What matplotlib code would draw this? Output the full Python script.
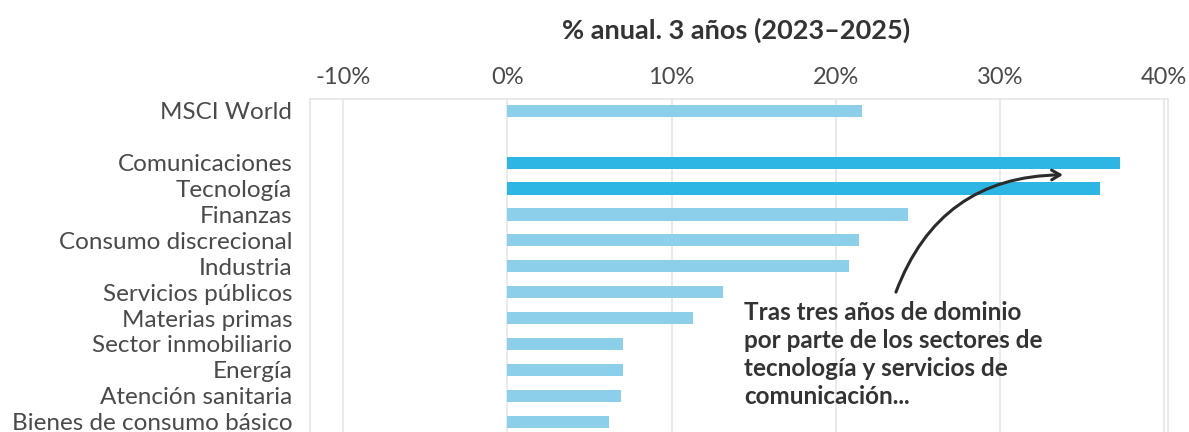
import matplotlib
matplotlib.use("Agg")
import matplotlib.pyplot as plt
from matplotlib.ticker import FuncFormatter

categories = ["MSCI World", "Comunicaciones", "Tecnología", "Finanzas",
              "Consumo discrecional", "Industria", "Servicios públicos",
              "Materias primas", "Sector inmobiliario", "Energía",
              "Atención sanitaria", "Bienes de consumo básico"]
values = [21.6, 37.3, 36.1, 24.4, 21.4, 20.8, 13.1, 11.3, 7.05, 7.05, 6.9, 6.2]
highlight = [False, True, True, False, False, False, False, False, False, False, False, False]
positions = [0, 2, 3, 4, 5, 6, 7, 8, 9, 10, 11, 12]
xticks = [-10, 0, 10, 20, 30, 40]
title = "% anual. 3 años (2023–2025)"
note = "Tras tres años de dominio\npor parte de los sectores de\ntecnología y servicios de\ncomunicación..."

light = "#8ccfeb"
strong = "#2db6e4"
textc = "#4a4a4a"
gridc = "#e6e6e6"

plt.rcParams['font.family'] = ['Lato', 'DejaVu Sans']

fig = plt.figure(figsize=(11.89, 4.32), dpi=100)
ax = fig.add_axes([0.261, 0.0, 0.982 - 0.261, 0.771])

colors = [strong if h else light for h in highlight]
ax.barh(positions, values, height=0.47, color=colors, zorder=2)

ax.set_xlim(-12, 40.2)
ax.set_ylim(12.4, -0.46)
ax.set_xticks(xticks)
ax.xaxis.set_major_formatter(FuncFormatter(lambda v, p: f"{v:.0f}%"))
ax.xaxis.tick_top()
ax.tick_params(axis='x', length=0, pad=8, labelsize=17, labelcolor=textc)
ax.set_yticks(positions)
ax.set_yticklabels(categories)
ax.tick_params(axis='y', length=0, pad=13, labelsize=17.5, labelcolor=textc)
ax.grid(axis='x', color=gridc, linewidth=1.2, zorder=0)
for side in ['top', 'left', 'right']:
    ax.spines[side].set_color(gridc)
    ax.spines[side].set_linewidth(1.2)
ax.spines['bottom'].set_visible(False)

fig.text(0.619, 0.93, title, ha='center', va='center', fontsize=19.5,
         fontweight='bold', color="#333333")

ax.text(14.4, 7.33, note, ha='left', va='top', fontsize=17.5, fontweight='bold',
        color="#333333", linespacing=1.27, zorder=3)

ax.annotate("", xy=(34.0, 2.47), xytext=(23.6, 7.1),
            arrowprops=dict(arrowstyle="->,head_length=0.6,head_width=0.35",
                            color="#2b2b2b", lw=2.2,
                            connectionstyle="arc3,rad=-0.35"), zorder=4)

fig.savefig("out.png", dpi=100)
